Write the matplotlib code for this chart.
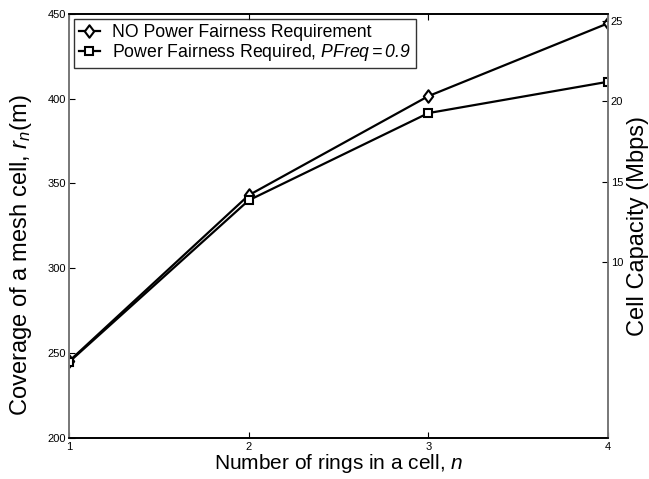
import numpy as np
import matplotlib
matplotlib.use("Agg")
import matplotlib.pyplot as plt
from matplotlib.path import Path

plt.rcParams['font.family'] = ['Liberation Sans', 'DejaVu Sans']
plt.rcParams['mathtext.fontset'] = 'custom'
plt.rcParams['mathtext.rm'] = 'Liberation Sans:italic'
plt.rcParams['mathtext.it'] = 'Liberation Sans:italic'

# datos
rings = [1, 2, 3, 4]
cobertura_sin_pf = [245, 343, 401.5, 444.5]
cobertura_pf = [244.5, 340, 391.5, 410]
capacidad_ticks = [10, 15, 20, 25]

etiqueta_sin_pf = 'NO Power Fairness Requirement'
etiqueta_pf = r'Power Fairness Required, $PFreq=0.9$'

# rombo estilo matlab, algo mas alto que ancho
rombo = Path([(0, 1), (0.75, 0), (0, -1), (-0.75, 0), (0, 1)],
             [Path.MOVETO, Path.LINETO, Path.LINETO, Path.LINETO, Path.CLOSEPOLY])

fig = plt.figure(figsize=(6.49, 4.79), dpi=100)
ax1 = fig.add_axes([0.1063, 0.0866, 0.8305, 0.8842])
ax2 = ax1.twinx()

ax1.plot(rings, cobertura_sin_pf, color='black', lw=1.6, marker=rombo,
         markersize=9, markerfacecolor='white', markeredgecolor='black',
         markeredgewidth=1.5, label=etiqueta_sin_pf)
ax1.plot(rings, cobertura_pf, color='black', lw=1.6, marker='s',
         markersize=5.5, markerfacecolor='white', markeredgecolor='black',
         markeredgewidth=1.5, label=etiqueta_pf)

ax1.set_xlim(1, 4)
ax1.set_ylim(200, 450)
ax1.set_xticks(rings)
ax1.set_yticks([200, 250, 300, 350, 400, 450])
ax1.tick_params(axis='x', direction='in', top=True, labelsize=8, length=4, pad=3)
ax1.tick_params(axis='y', direction='in', right=False, labelsize=8, length=4, pad=2)
ax1.set_xlabel(r'Number of rings in a cell, $n$', fontsize=15, labelpad=0)
ax1.set_ylabel(r'Coverage of a mesh cell, $r_n$(m)', fontsize=17)
ax1.yaxis.set_label_coords(-0.064, 0.43)

ax2.set_ylim(-0.9, 25.42)
ax2.set_yticks(capacidad_ticks)
ax2.tick_params(axis='y', direction='in', labelsize=8, length=4, pad=2)
ax2.set_ylabel('Cell Capacity (Mbps)', fontsize=17, labelpad=3)

for ax in (ax1, ax2):
    ax.spines['left'].set_color('#777777')
    ax.spines['right'].set_color('#777777')
    ax.spines['top'].set_color('black')
    ax.spines['bottom'].set_color('black')
    for s in ax.spines.values():
        s.set_linewidth(1.2)

leg = ax1.legend(loc='upper left', fontsize=12.7, frameon=True, fancybox=False,
                 borderaxespad=0.3, handlelength=1.2, handletextpad=0.7,
                 borderpad=0.25, labelspacing=0.1)
leg.get_frame().set_edgecolor('black')
leg.get_frame().set_linewidth(1.0)

fig.savefig('out.png', dpi=100)
